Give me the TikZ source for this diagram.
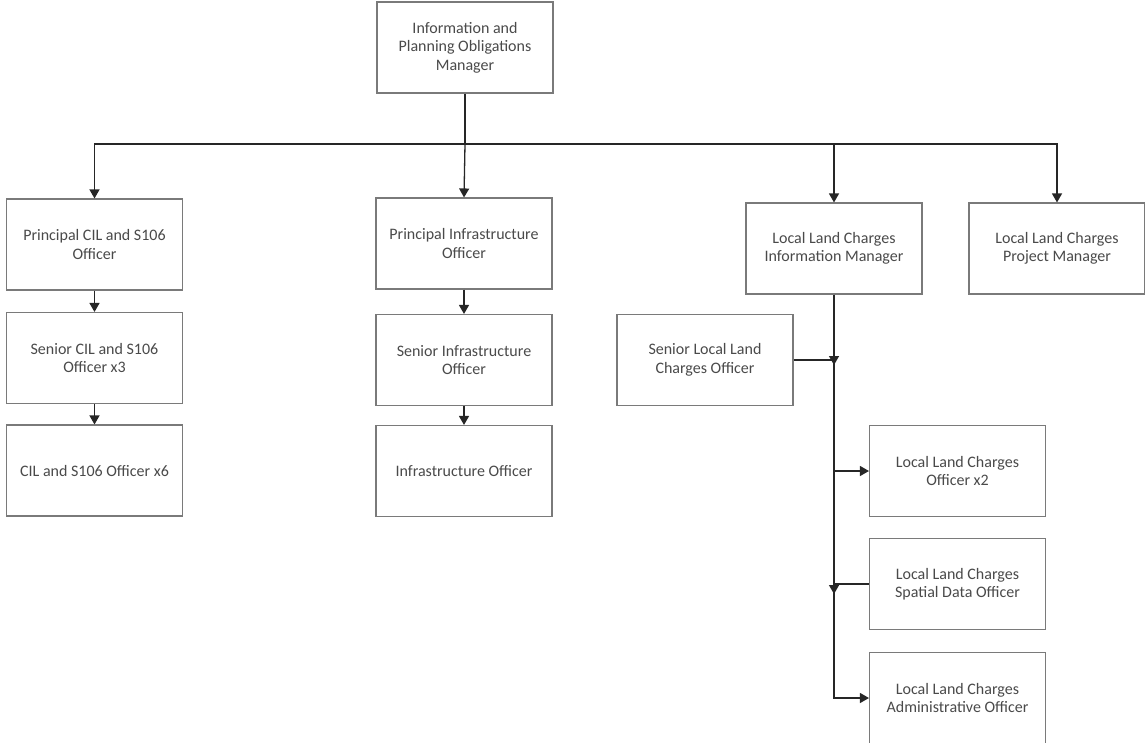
\documentclass[tikz,border=0pt]{standalone}
\usepackage{fontspec}
\setmainfont{Carlito}
\usetikzlibrary{arrows.meta}
\definecolor{boxline}{HTML}{7A7A7A}
\definecolor{txt}{HTML}{4A4A4A}
\tikzset{
  box/.style={draw=boxline, line width=1.1pt, fill=white, minimum width=176pt, minimum height=91pt,
    align=center, text=txt, font=\fontsize{16}{18.5}\selectfont, inner sep=2pt},
  conn/.style={draw=black!85, line width=1.3pt},
  arr/.style={conn, -{Triangle[width=10pt,length=9pt]}},
}
\begin{document}
\begin{tikzpicture}[x=1pt,y=-1pt]
\useasboundingbox (0,0) rectangle (1145,742);
\node[box] (top) at (465,47.5) {Information and\\Planning Obligations\\Manager};
\node[box] (pcil) at (94.5,244.5) {Principal CIL and S106\\Officer};
\node[box] (scil) at (94.5,358) {Senior CIL and S106\\Officer x3};
\node[box] (cil) at (94.5,470.5) {CIL and S106 Officer x6};
\node[box] (pinf) at (464,243.5) {Principal Infrastructure\\Officer};
\node[box] (sinf) at (464,360) {Senior Infrastructure\\Officer};
\node[box] (inf) at (464,471) {Infrastructure Officer};
\node[box] (llcim) at (834,248.5) {Local Land Charges\\Information Manager};
\node[box] (llcpm) at (1057,248.5) {Local Land Charges\\Project Manager};
\node[box] (sllco) at (705,360) {Senior Local Land\\Charges Officer};
\node[box] (llco) at (957.5,471) {Local Land Charges\\Officer x2};
\node[box] (llcsd) at (957.5,584) {Local Land Charges\\Spatial Data Officer};
\node[box] (llcao) at (957.5,698) {Local Land Charges\\Administrative Officer};

\coordinate (hb) at (top.south |- 0,144);
\draw[conn] (top.south) -- (hb);
\draw[arr] (hb) -| (pcil.north);
\draw[arr] (hb) -- (pinf.north);
\draw[arr] (hb) -| (llcim.north);
\draw[arr] (hb) -| (llcpm.north);

\draw[arr] (pcil) -- (scil);
\draw[arr] (scil) -- (cil);
\draw[arr] (pinf) -- (sinf);
\draw[arr] (sinf) -- (inf);

\draw[arr] (llcim.south) |- (llcao.west);
\draw[arr] (llcim.south |- llco.west) -- (llco.west);
\coordinate (j1) at (llcim.south |- sllco.east);
\coordinate (j2) at (llcim.south |- llcsd.west);
\draw[conn] (sllco.east) -- (j1);
\draw[conn] (llcsd.west) -- (j2);
\draw[arr] ([yshift=4pt]j1) -- ([yshift=-5pt]j1);
\draw[arr] ([yshift=1pt]j2) -- ([yshift=-10pt]j2);
\end{tikzpicture}
\end{document}
